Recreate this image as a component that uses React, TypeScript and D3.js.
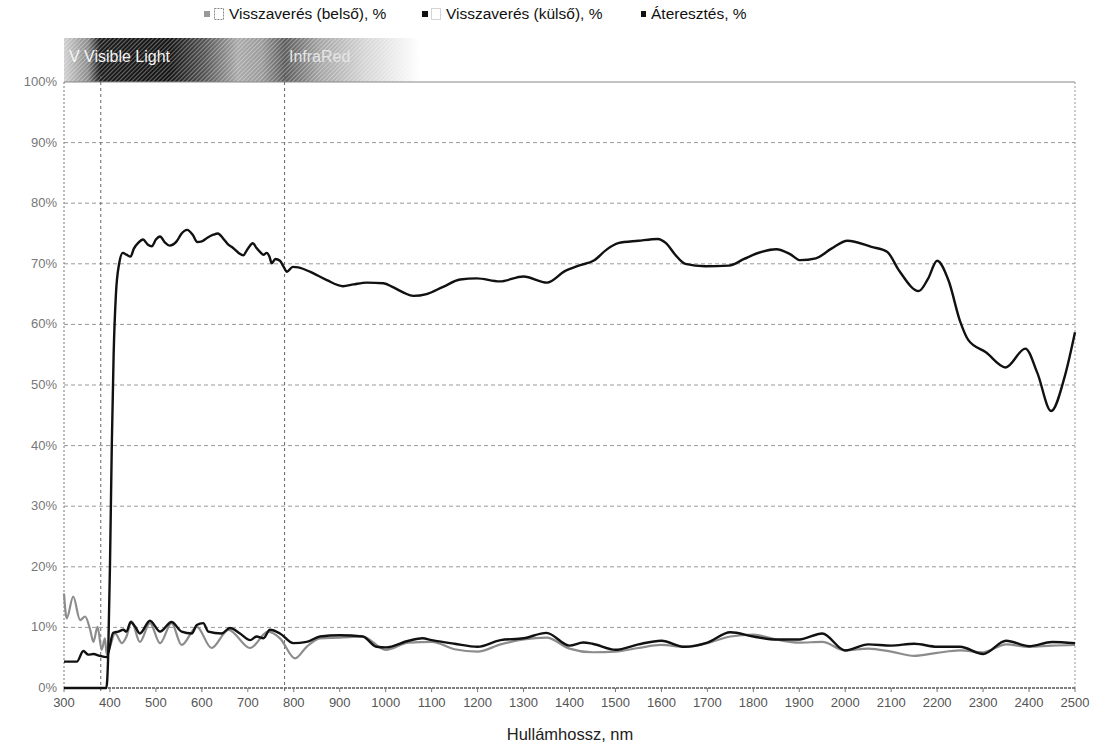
import React, { useEffect, useRef } from "react";
import * as d3 from "d3";

// wavelength (nm) / value (%) pairs
const transmission: [number, number][] = [
  [300, 0], [340, 0], [392, 0], [396, 5], [400, 20], [404, 40], [408, 55], [413, 65],
  [420, 70], [428, 71.8], [436, 71.5], [445, 71.2], [452, 72.5], [462, 73.5], [472, 74],
  [482, 73.2], [491, 72.9], [500, 74], [509, 74.5], [520, 73.5], [530, 73], [545, 73.7],
  [556, 75], [568, 75.6], [580, 74.8], [590, 73.6], [600, 73.7], [612, 74.3], [625, 74.8],
  [635, 75], [646, 74.2], [657, 73.2], [668, 72.6], [680, 71.8], [690, 71.4], [700, 72.5],
  [711, 73.4], [719, 72.6], [726, 72], [734, 71.5], [741, 71.8], [747, 71.2], [752, 70.1],
  [760, 70.8], [770, 70.5], [778, 69.5], [785, 68.7], [798, 69.5], [810, 69.4], [835, 68.7],
  [872, 67.3], [907, 66.3], [930, 66.6], [959, 66.9], [995, 66.8], [1017, 66.1], [1040, 65.2],
  [1060, 64.7], [1089, 65], [1125, 66.2], [1162, 67.4], [1198, 67.6], [1248, 67.1],
  [1300, 67.9], [1351, 66.9], [1390, 68.8], [1420, 69.7], [1454, 70.6], [1480, 72.3],
  [1506, 73.4], [1550, 73.8], [1592, 74.1], [1610, 73.4], [1630, 71.5], [1652, 70],
  [1695, 69.6], [1747, 69.7], [1780, 70.8], [1807, 71.7], [1850, 72.4], [1880, 71.6],
  [1902, 70.6], [1936, 70.9], [1970, 72.5], [2005, 73.8], [2057, 72.8], [2091, 72],
  [2117, 68.9], [2160, 65.5], [2180, 67.5], [2200, 70.5], [2225, 67.2], [2250, 60.5],
  [2268, 57.4], [2306, 55.4], [2349, 52.9], [2392, 56], [2418, 52], [2448, 45.7],
  [2478, 51.5], [2500, 58.7],
];

const reflOuter: [number, number][] = [
  [300, 4.35], [328, 4.35], [342, 6.1], [353, 5.5], [364, 5.6], [378, 5.3], [393, 5.1],
  [407, 9.1], [418, 9.3], [429, 9.6], [436, 9.3], [445, 10.9], [455, 10.1], [465, 9.0],
  [487, 11.1], [509, 9.3], [534, 10.9], [556, 9.3], [578, 9.0], [589, 10.4], [603, 10.7],
  [614, 9.3], [643, 9.0], [661, 9.9], [683, 9.0], [705, 7.9], [719, 8.5], [734, 8.2],
  [748, 9.6], [770, 9.0], [799, 7.4], [828, 7.6], [857, 8.5], [900, 8.7], [950, 8.5],
  [980, 6.8], [1000, 6.7], [1050, 7.8], [1080, 8.2], [1100, 7.9], [1150, 7.3], [1200, 6.8],
  [1250, 7.9], [1300, 8.2], [1350, 9.1], [1400, 7.0], [1430, 7.5], [1450, 7.3], [1500, 6.3],
  [1550, 7.2], [1600, 7.8], [1650, 6.8], [1700, 7.5], [1750, 9.2], [1800, 8.5], [1850, 8.0],
  [1900, 8.0], [1950, 9.0], [2000, 6.2], [2050, 7.2], [2100, 7.0], [2150, 7.3], [2200, 6.8],
  [2250, 6.8], [2300, 5.6], [2350, 7.8], [2400, 6.9], [2450, 7.6], [2500, 7.4],
];

const reflInner: [number, number][] = [
  [300, 15.6], [306, 11.5], [320, 15.1], [335, 11.2], [346, 11.8], [357, 9.6], [364, 7.6],
  [373, 10.1], [382, 6.3], [389, 8.2], [393, 5.5], [400, 6.8], [411, 9.0], [426, 7.4],
  [436, 8.5], [447, 11.0], [465, 7.6], [487, 10.7], [509, 7.4], [534, 10.7], [556, 7.1],
  [589, 10.1], [621, 6.6], [658, 9.6], [705, 6.6], [744, 9.3], [770, 8.2], [803, 4.9],
  [828, 6.8], [857, 8.2], [900, 8.3], [950, 8.5], [1000, 6.3], [1050, 7.5], [1100, 7.6],
  [1150, 6.4], [1200, 6.0], [1250, 7.2], [1300, 8.0], [1350, 8.3], [1400, 6.5], [1450, 5.9],
  [1500, 6.0], [1550, 6.6], [1600, 7.1], [1650, 6.8], [1700, 7.4], [1750, 8.5], [1800, 8.8],
  [1850, 8.0], [1900, 7.5], [1950, 7.6], [2000, 6.2], [2050, 6.5], [2100, 6.0], [2150, 5.3],
  [2200, 5.8], [2250, 6.2], [2300, 5.9], [2350, 7.2], [2400, 6.8], [2450, 7.0], [2500, 7.1],
];

const xTicks = d3.range(300, 2501, 100);
const yTicks = d3.range(0, 101, 10);
const bandLines = [380, 780];
const legendLabels = ["Visszaverés (belső), %", "Visszaverés (külső), %", "Áteresztés, %"];

export default function App() {
  const ref = useRef<SVGSVGElement>(null);

  useEffect(() => {
    const left = 64,
      right = 1075,
      top = 82,
      bottom = 688;
    const font = "'Liberation Sans', Arial, sans-serif";
    const svg = d3.select(ref.current);
    svg.selectAll("*").remove();

    const x = d3.scaleLinear().domain([300, 2500]).range([left, right]);
    const y = d3.scaleLinear().domain([0, 100]).range([bottom, top]);

    const defs = svg.append("defs");
    const grad = defs
      .append("linearGradient")
      .attr("id", "band")
      .attr("gradientUnits", "userSpaceOnUse")
      .attr("x1", left)
      .attr("x2", 420)
      .attr("y1", 0)
      .attr("y2", 0);
    [
      [64, "#cfcfcf"], [88, "#8a8a8a"], [100, "#1c1c1c"], [170, "#151515"], [205, "#555"],
      [238, "#aaa"], [262, "#9a9a9a"], [285, "#5a5a5a"], [320, "#a5a5a5"], [365, "#d5d5d5"],
      [420, "#ffffff"],
    ].forEach(([px, c]) => {
      grad
        .append("stop")
        .attr("offset", ((px as number) - left) / (420 - left))
        .attr("stop-color", c as string);
    });
    const hatch = defs
      .append("pattern")
      .attr("id", "hatch")
      .attr("width", 3)
      .attr("height", 3)
      .attr("patternUnits", "userSpaceOnUse")
      .attr("patternTransform", "rotate(45)");
    hatch.append("rect").attr("width", 1).attr("height", 3).attr("fill", "#fff").attr("opacity", 0.35);

    // spectrum band over the plot
    svg.append("rect").attr("x", left).attr("y", 38).attr("width", 420 - left).attr("height", top - 38).attr("fill", "url(#band)");
    svg.append("rect").attr("x", left).attr("y", 38).attr("width", 420 - left).attr("height", top - 38).attr("fill", "url(#hatch)");
    const bandText = svg.append("g").attr("font-family", font).attr("font-size", 16);
    bandText.append("text").attr("x", 69).attr("y", 62).attr("fill", "#f4f4f4").text("V");
    bandText.append("text").attr("x", 84).attr("y", 62).attr("fill", "#f4f4f4").text("Visible Light");
    bandText.append("text").attr("x", 289).attr("y", 62).attr("fill", "#e6e6e6").text("InfraRed");

    // grid
    svg
      .append("g")
      .selectAll("line")
      .data(yTicks.filter((t) => t > 0 && t < 100))
      .join("line")
      .attr("x1", left)
      .attr("x2", right)
      .attr("y1", (d) => y(d))
      .attr("y2", (d) => y(d))
      .attr("stroke", "#999")
      .attr("stroke-width", 1)
      .attr("stroke-dasharray", "4,3");

    svg.append("line").attr("x1", left).attr("x2", right).attr("y1", y(100)).attr("y2", y(100)).attr("stroke", "#888").attr("stroke-width", 1.2);
    svg.append("line").attr("x1", left).attr("x2", left).attr("y1", top).attr("y2", bottom).attr("stroke", "#777").attr("stroke-dasharray", "2,2");
    svg.append("line").attr("x1", right).attr("x2", right).attr("y1", top).attr("y2", bottom).attr("stroke", "#999").attr("stroke-dasharray", "2,2");

    svg
      .append("g")
      .selectAll("line")
      .data(bandLines)
      .join("line")
      .attr("x1", (d) => x(d))
      .attr("x2", (d) => x(d))
      .attr("y1", top - 6)
      .attr("y2", bottom + 4)
      .attr("stroke", "#666")
      .attr("stroke-dasharray", "3,3");

    // x axis
    svg.append("line").attr("x1", left).attr("x2", right).attr("y1", bottom).attr("y2", bottom).attr("stroke", "#555").attr("stroke-width", 1.5).attr("stroke-dasharray", "3,1");
    svg
      .append("g")
      .selectAll("line")
      .data(xTicks)
      .join("line")
      .attr("x1", (d) => x(d))
      .attr("x2", (d) => x(d))
      .attr("y1", bottom)
      .attr("y2", bottom + 4)
      .attr("stroke", "#777");
    svg
      .append("g")
      .selectAll("text")
      .data(xTicks)
      .join("text")
      .attr("x", (d) => x(d))
      .attr("y", bottom + 19)
      .attr("text-anchor", "middle")
      .attr("font-family", font)
      .attr("font-size", 13)
      .attr("fill", "#555")
      .text((d) => d);
    svg
      .append("g")
      .selectAll("text")
      .data(yTicks)
      .join("text")
      .attr("x", left - 7)
      .attr("y", (d) => y(d) + 4)
      .attr("text-anchor", "end")
      .attr("font-family", font)
      .attr("font-size", 13)
      .attr("fill", "#777")
      .text((d) => d + "%");
    svg
      .append("text")
      .attr("x", 570)
      .attr("y", 740)
      .attr("text-anchor", "middle")
      .attr("font-family", font)
      .attr("font-size", 16.5)
      .attr("fill", "#222")
      .text("Hullámhossz, nm");

    // series
    const line = d3
      .line<[number, number]>()
      .x((d) => x(d[0]))
      .y((d) => y(d[1]))
      .curve(d3.curveMonotoneX);

    svg.append("path").datum(reflInner).attr("fill", "none").attr("stroke", "#8c8c8c").attr("stroke-width", 2.2).attr("d", line);
    svg.append("path").datum(reflOuter).attr("fill", "none").attr("stroke", "#111").attr("stroke-width", 2.4).attr("d", line);
    svg.append("path").datum(transmission).attr("fill", "none").attr("stroke", "#111").attr("stroke-width", 2.4).attr("d", line);

    // legend
    const lg = svg.append("g").attr("font-family", font).attr("font-size", 15.5).attr("fill", "#111");
    lg.append("rect").attr("x", 204).attr("y", 11).attr("width", 6).attr("height", 6).attr("fill", "#999");
    lg.append("rect").attr("x", 214.5).attr("y", 8.5).attr("width", 9).attr("height", 11).attr("fill", "none").attr("stroke", "#888").attr("stroke-dasharray", "2,1");
    lg.append("text").attr("x", 229).attr("y", 19).text(legendLabels[0]);
    lg.append("rect").attr("x", 422).attr("y", 11).attr("width", 6).attr("height", 6).attr("fill", "#111");
    lg.append("rect").attr("x", 431.5).attr("y", 8.5).attr("width", 9).attr("height", 11).attr("fill", "none").attr("stroke", "#aaa").attr("stroke-dasharray", "1,1");
    lg.append("text").attr("x", 446).attr("y", 19).text(legendLabels[1]);
    lg.append("rect").attr("x", 641).attr("y", 11).attr("width", 5).attr("height", 6).attr("fill", "#111");
    lg.append("text").attr("x", 651).attr("y", 19).text(legendLabels[2]);
  }, []);

  return (
    <svg
      ref={ref}
      width={1094}
      height={751}
      style={{ position: "absolute", left: 0, top: 0, background: "#fff" }}
    />
  );
}
